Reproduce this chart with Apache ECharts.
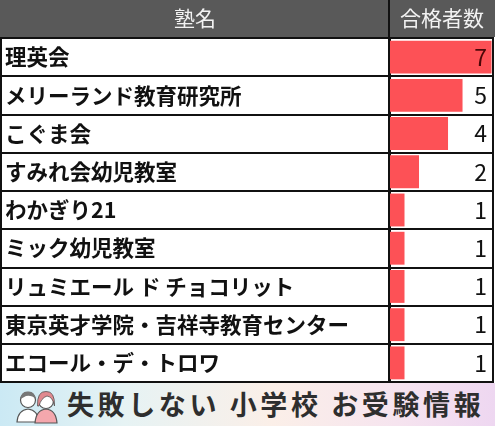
<!DOCTYPE html>
<html>
<head>
<meta charset="utf-8">
<script src="https://cdn.jsdelivr.net/npm/echarts@6/dist/echarts.min.js"></script>
<style>
html, body { margin: 0; padding: 0; background: #fff; }
#chart { width: 495px; height: 383px; }
#banner {
    position: relative; width: 495px; height: 43px;
    background: linear-gradient(90deg, #cbe9f4 0%, #e6f3f4 25%, #fbefe8 55%, #f6e4ef 80%, #eed7f1 100%);
    font-family: 'Noto Sans CJK JP', sans-serif; color: #2e2e2e;
}
#banner .txt {
    position: absolute; left: 67px; top: 2px; font-size: 27px; font-weight: bold; letter-spacing: 3.6px;
    line-height: 38px; white-space: nowrap;
}
#banner svg { position: absolute; left: 14px; top: 3px; }
</style>
</head>
<body>
<div id="chart"></div>
<div id="banner">
  <svg width="44" height="38" viewBox="0 0 44 38">
    <path d="M3 36 Q4 24 14 23 Q24 24 25 36 Z" fill="#fff" stroke="#555" stroke-width="1.2"/>
    <circle cx="14" cy="14" r="7.5" fill="#fff" stroke="#555" stroke-width="1.2"/>
    <path d="M6.5 13 Q7 5 14 5.5 Q21 5 21.5 13 Q18 9 12 10 Z" fill="#777"/>
    <path d="M21 37 Q22 24 32 23 Q42 24 43 37 Z" fill="#f4a7ad" stroke="#555" stroke-width="1.2"/>
    <circle cx="32" cy="15" r="7.5" fill="#fff" stroke="#555" stroke-width="1.2"/>
    <path d="M23.5 20 Q23 5 32 5.5 Q41 5 40.5 20 Q39 11 33 10 Q27 12 25 20 Z" fill="#e0898f" stroke="#555" stroke-width="0.8"/>
  </svg>
  <div class="txt">失敗しない 小学校 お受験情報</div>
</div>
<script>
// 塾名と合格者数
var schools = ['理英会', 'メリーランド教育研究所', 'こぐま会', 'すみれ会幼児教室', 'わかぎり21',
    'ミック幼児教室', 'リュミエール ド チョコリット', '東京英才学院・吉祥寺教育センター', 'エコール・デ・トロワ'];
var counts = [7, 5, 4, 2, 1, 1, 1, 1, 1];
var headers = ['塾名', '合格者数'];

var FONT = 'Noto Sans CJK JP';
var myChart = echarts.init(document.getElementById('chart'));

var option = {
    animation: false,
    backgroundColor: '#fff',
    textStyle: { fontFamily: FONT },
    graphic: [
        { type: 'rect', shape: { x: 0, y: 0, width: 495, height: 37 }, style: { fill: '#595959' } },
        { type: 'rect', shape: { x: 388, y: 0, width: 2, height: 38 }, style: { fill: '#111' } },
        { type: 'text', x: 195, y: 18, style: { text: headers[0], fill: '#f2f2f2', font: '21px "' + FONT + '"', textAlign: 'center', textVerticalAlign: 'middle' } },
        { type: 'text', x: 442, y: 18, style: { text: headers[1], fill: '#f2f2f2', font: '21px "' + FONT + '"', textAlign: 'center', textVerticalAlign: 'middle' } }
    ],
    grid: [
        { left: 1, top: 38, width: 388, height: 344, show: true, backgroundColor: '#fff', borderColor: '#111', borderWidth: 2 },
        { left: 390, top: 38, width: 103, height: 344, show: true, backgroundColor: '#fff', borderColor: '#111', borderWidth: 2 }
    ],
    xAxis: [
        { gridIndex: 0, type: 'value', min: 0, max: 1, show: false },
        { gridIndex: 1, type: 'value', min: 0, max: 7.1, show: false }
    ],
    yAxis: [
        {
            gridIndex: 0, type: 'category', inverse: true, data: schools,
            axisLine: { show: false }, axisTick: { show: false },
            splitLine: { show: true, lineStyle: { color: '#111', width: 2 } },
            axisLabel: { inside: true, margin: 4, color: '#111', fontSize: 21.5, fontWeight: 'bold', fontFamily: FONT }
        },
        {
            gridIndex: 1, type: 'category', inverse: true, data: schools,
            axisLine: { show: false }, axisTick: { show: false }, axisLabel: { show: false },
            splitLine: { show: true, lineStyle: { color: '#111', width: 2 } }
        },
        {
            gridIndex: 1, type: 'category', inverse: true, data: schools, position: 'right', z: 5,
            axisLine: { show: false }, axisTick: { show: false },
            axisLabel: {
                inside: true, margin: 6, fontSize: 23, fontFamily: FONT,
                formatter: function (v, i) { return String(counts[i]); },
                color: function (v, i) { return i === 0 ? '#4a0707' : '#111'; }
            }
        }
    ],
    series: [{
        type: 'bar',
        xAxisIndex: 1,
        yAxisIndex: 1,
        data: counts,
        barCategoryGap: '14%',
        itemStyle: { color: '#fd5156' },
        silent: true
    }]
};

myChart.setOption(option);
</script>
</body>
</html>
